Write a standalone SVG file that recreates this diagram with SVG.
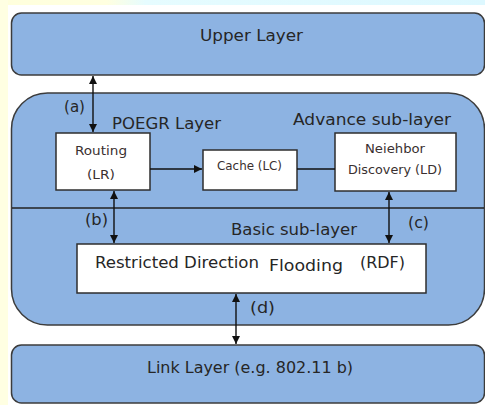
<svg xmlns="http://www.w3.org/2000/svg" width="485" height="405" viewBox="0 0 485 405">
  <defs>
    <linearGradient id="topStrip" x1="0" y1="0" x2="1" y2="0">
      <stop offset="0" stop-color="#FFFFDC"/>
      <stop offset="0.22" stop-color="#FFFFE0"/>
      <stop offset="0.3" stop-color="#E6FCFF"/>
      <stop offset="1" stop-color="#DDF8FF"/>
    </linearGradient>
    <marker id="arrow" viewBox="0 0 10 10" refX="10" refY="5" markerWidth="8" markerHeight="8" markerUnits="userSpaceOnUse" orient="auto-start-reverse">
      <path d="M0,0 L10,5 L0,10 Z" fill="#111"/>
    </marker>
    <style>
      .layer { fill: #8DB3E2; stroke: #3C3C3C; stroke-width: 1.5; }
      .box { fill: #FFFFFF; stroke: #2E2E2E; stroke-width: 1.5; }
      .big { font-family: "DejaVu Sans", "Liberation Sans", sans-serif; font-size: 16px; fill: #262626; }
      .small { font-family: "DejaVu Sans", "Liberation Sans", sans-serif; fill: #3A3030; }
      .conn { stroke: #111; stroke-width: 1.4; fill: none; }
    </style>
  </defs>

  <rect x="0" y="0" width="485" height="405" fill="#FFFFFF"/>
  <rect x="0" y="0" width="485" height="5" fill="url(#topStrip)"/>
  <rect x="0" y="0" width="8" height="405" fill="#FFFFE2"/>

  <g id="upper-layer">
    <rect class="layer" x="11.5" y="13" width="473" height="62" rx="10"/>
    <text class="big" x="200" y="41" textLength="103" lengthAdjust="spacingAndGlyphs">Upper Layer</text>
  </g>

  <g id="poegr-layer">
    <rect class="layer" x="11.5" y="93" width="473" height="232" rx="36"/>
    <line x1="12" y1="208" x2="484" y2="208" stroke="#222" stroke-width="1.3"/>
    <text class="big" x="112" y="129" textLength="109" lengthAdjust="spacingAndGlyphs">POEGR Layer</text>
    <text class="big" x="293" y="125" textLength="158" lengthAdjust="spacingAndGlyphs">Advance sub-layer</text>
    <text class="big" x="231" y="235" textLength="126" lengthAdjust="spacingAndGlyphs">Basic sub-layer</text>
  </g>

  <g id="routing">
    <rect class="box" x="56" y="133" width="94" height="57"/>
    <text class="small" font-size="13" x="75" y="155" textLength="52" lengthAdjust="spacingAndGlyphs">Routing</text>
    <text class="small" font-size="13" x="87" y="179" textLength="28" lengthAdjust="spacingAndGlyphs">(LR)</text>
  </g>

  <g id="cache">
    <rect class="box" x="203" y="150" width="94" height="40"/>
    <text class="small" font-size="12" x="217" y="170" textLength="65" lengthAdjust="spacingAndGlyphs">Cache (LC)</text>
  </g>

  <g id="neighbor-discovery">
    <rect class="box" x="335" y="133" width="121" height="58"/>
    <text class="small" font-size="12" x="365" y="153" textLength="60" lengthAdjust="spacingAndGlyphs">Neiehbor</text>
    <text class="small" font-size="12" x="348" y="174" textLength="94" lengthAdjust="spacingAndGlyphs">Discovery (LD)</text>
  </g>

  <g id="rdf">
    <rect class="box" x="77" y="244" width="349" height="49"/>
    <text class="big" x="95" y="268" textLength="164" lengthAdjust="spacingAndGlyphs">Restricted Direction</text>
    <text class="big" x="269" y="271" textLength="74" lengthAdjust="spacingAndGlyphs">Flooding</text>
    <text class="big" x="360" y="268" textLength="45" lengthAdjust="spacingAndGlyphs">(RDF)</text>
  </g>

  <g id="link-layer">
    <rect class="layer" x="11.5" y="345" width="473" height="58" rx="10"/>
    <text class="big" x="147" y="373" textLength="206" lengthAdjust="spacingAndGlyphs">Link Layer (e.g. 802.11 b)</text>
  </g>

  <g id="connectors">
    <line class="conn" x1="93" y1="76" x2="93" y2="132" marker-start="url(#arrow)" marker-end="url(#arrow)"/>
    <text class="big" x="64" y="112" textLength="21" lengthAdjust="spacingAndGlyphs">(a)</text>
    <line class="conn" x1="114" y1="191" x2="114" y2="243" marker-start="url(#arrow)" marker-end="url(#arrow)"/>
    <text class="big" x="85" y="225" textLength="23" lengthAdjust="spacingAndGlyphs">(b)</text>
    <line class="conn" x1="389" y1="192" x2="389" y2="243" marker-start="url(#arrow)" marker-end="url(#arrow)"/>
    <text class="big" x="408" y="228" textLength="21" lengthAdjust="spacingAndGlyphs">(c)</text>
    <line class="conn" x1="236" y1="294" x2="236" y2="344" marker-start="url(#arrow)" marker-end="url(#arrow)"/>
    <text class="big" x="250" y="313" textLength="25" lengthAdjust="spacingAndGlyphs">(d)</text>
    <line class="conn" x1="150" y1="169" x2="202" y2="169" marker-end="url(#arrow)"/>
    <line class="conn" x1="297" y1="169" x2="335" y2="169"/>
  </g>
</svg>
